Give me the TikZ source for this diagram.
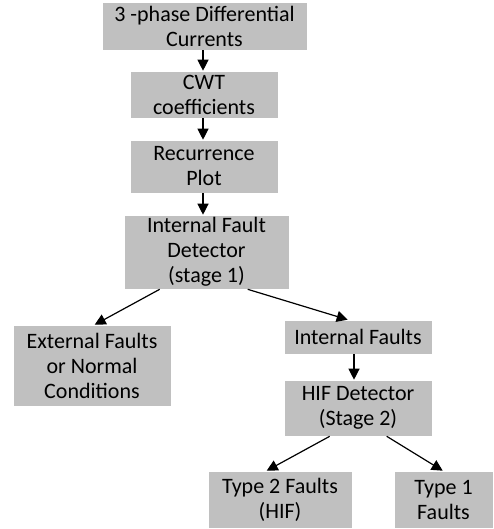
\documentclass[tikz,border=0pt]{standalone}
\usepackage{fontspec}
\setmainfont{Carlito}
\usetikzlibrary{arrows.meta}
\definecolor{boxgray}{RGB}{192,192,192}
\begin{document}
\begin{tikzpicture}[x=1pt,y=-1pt,
  box/.style={fill=boxgray,draw=white,line width=0.6pt,inner sep=0pt,align=center,
    font=\fontsize{22}{25}\selectfont},
  arr/.style={line width=1.2pt,-{Triangle[length=11pt,width=11pt]}}]
\useasboundingbox (0,0) rectangle (493,529);
\node[box,minimum width=205pt,minimum height=48pt] (b1) at (204.5,26) {3 -phase Differential\\Currents};
\node[box,minimum width=148pt,minimum height=47pt] (b2) at (204,94.5) {CWT\\coefficients};
\node[box,minimum width=148pt,minimum height=53pt] (b3) at (204,166.5) {Recurrence\\Plot};
\node[box,minimum width=165pt,minimum height=74pt] (b4) at (206.5,252) {Internal Fault\\Detector\\(stage 1)};
\node[box,minimum width=158pt,minimum height=81pt] (b5) at (92,365.5) {External Faults\\or Normal\\Conditions};
\node[box,minimum width=148pt,minimum height=34pt] (b6) at (358,337) {Internal Faults};
\node[box,minimum width=148pt,minimum height=56pt] (b7) at (358,408) {HIF Detector\\(Stage 2)};
\node[box,minimum width=144pt,minimum height=57pt] (b8) at (280,499.5) {Type 2 Faults\\(HIF)};
\node[box,minimum width=99pt,minimum height=57pt] (b9) at (443.5,499.5) {Type 1\\Faults};
\draw[arr] ([xshift=-1.5pt]b1.south) -- ([xshift=-1pt]b2.north);
\draw[arr] ([xshift=-1pt]b2.south) -- ([xshift=-1pt]b3.north);
\draw[arr] ([xshift=-1pt]b3.south) -- ([xshift=-3.5pt]b4.north);
\draw[arr] ([xshift=36pt]b4.south west) -- ([xshift=82pt]b5.north west);
\draw[arr] ([xshift=124pt]b4.south west) -- ([xshift=64pt]b6.north west);
\draw[arr] ([xshift=-4pt]b6.south) -- ([xshift=-4pt]b7.north);
\draw[arr] ([xshift=46pt]b7.south west) -- ([xshift=59pt]b8.north west);
\draw[arr] ([xshift=103pt]b7.south west) -- ([xshift=49pt]b9.north west);
\end{tikzpicture}
\end{document}
